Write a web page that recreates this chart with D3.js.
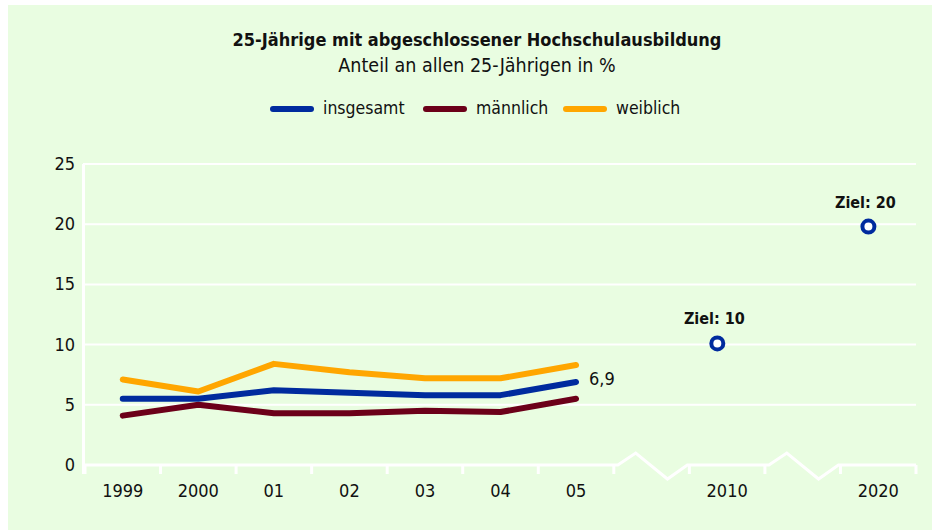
<!DOCTYPE html>
<html>
<head>
<meta charset="utf-8">
<script src="https://cdn.jsdelivr.net/npm/d3@7"></script>
<style>
  html, body { margin: 0; padding: 0; background: #fff; }
  svg { display: block; font-family: "DejaVu Sans Condensed", "DejaVu Sans", sans-serif; }
</style>
</head>
<body>
<div id="chart"></div>
<script>
// x slots: data years, an axis break, 2010, another break, 2020
const slots = ["1999", "2000", "01", "02", "03", "04", "05", "brk1", "2010", "brk2", "2020"];
const breakSlots = ["brk1", "brk2"];
const years = ["1999", "2000", "01", "02", "03", "04", "05"];
const insgesamt = [5.5, 5.5, 6.2, 6.0, 5.8, 5.8, 6.9];
const maennlich = [4.1, 5.0, 4.3, 4.3, 4.5, 4.4, 5.5];
const weiblich = [7.1, 6.1, 8.4, 7.7, 7.2, 7.2, 8.3];
const zielYears = ["2010", "2020"];
const zielValues = [10.1, 19.8];
const zielLabels = ["Ziel: 10", "Ziel: 20"];
const yTicks = [0, 5, 10, 15, 20, 25];

const width = 932, height = 530;
const colors = { insgesamt: "#002b9e", maennlich: "#6c0019", weiblich: "#ffa600" };
const series = [
    { name: "insgesamt", values: insgesamt, color: colors.insgesamt },
    { name: "männlich", values: maennlich, color: colors.maennlich },
    { name: "weiblich", values: weiblich, color: colors.weiblich }
];

const svg = d3.select("#chart").append("svg")
    .attr("width", width)
    .attr("height", height);

// green panel
svg.append("rect")
    .attr("x", 8).attr("y", 5)
    .attr("width", width - 8).attr("height", height - 5)
    .attr("fill", "#e9fde1");

const x = d3.scaleBand().domain(slots).range([85, 916]);
const y = d3.scaleLinear().domain([0, 25]).range([465, 164]);
const bw = x.bandwidth();
const cx = d => x(d) + bw / 2;

// titles
svg.append("text")
    .attr("x", 477).attr("y", 46)
    .attr("text-anchor", "middle")
    .style("font-size", "18px").style("font-weight", "bold")
    .attr("fill", "#111")
    .text("25-Jährige mit abgeschlossener Hochschulausbildung");
svg.append("text")
    .attr("x", 477).attr("y", 72)
    .attr("text-anchor", "middle")
    .style("font-size", "19.5px")
    .attr("fill", "#111")
    .text("Anteil an allen 25-Jährigen in %");

// legend
const legendX = [270, 423, 563];
const lg = svg.selectAll("g.legend").data(series).enter().append("g")
    .attr("class", "legend")
    .attr("transform", (d, i) => `translate(${legendX[i]},109)`);
lg.append("line")
    .attr("x1", 3).attr("x2", 41)
    .attr("stroke", d => d.color)
    .attr("stroke-width", 6)
    .attr("stroke-linecap", "round");
lg.append("text")
    .attr("x", 53).attr("y", 5)
    .style("font-size", "17.5px")
    .attr("fill", "#111")
    .text(d => d.name);

// gridlines
svg.selectAll("line.grid")
    .data(yTicks.filter(t => t > 0))
    .enter().append("line")
    .attr("class", "grid")
    .attr("x1", 83).attr("x2", 916)
    .attr("y1", d => y(d)).attr("y2", d => y(d))
    .attr("stroke", "#fff").attr("stroke-width", 2);

// y tick labels
svg.selectAll("text.ytick")
    .data(yTicks)
    .enter().append("text")
    .attr("class", "ytick")
    .attr("x", 75).attr("y", d => y(d) + 6)
    .attr("text-anchor", "end")
    .style("font-size", "18px")
    .attr("fill", "#111")
    .text(d => d);

// x axis with zigzag breaks
const y0 = y(0);
const axisPts = [[83, y0]];
slots.forEach(s => {
    const x0 = x(s);
    if (breakSlots.includes(s)) {
        axisPts.push([x0 + 4, y0]);
        axisPts.push([x0 + bw * 0.29, y0 - 12]);
        axisPts.push([x0 + bw * 0.71, y0 + 14]);
        axisPts.push([x0 + bw - 2, y0]);
    }
});
axisPts.push([916, y0]);
svg.append("path")
    .attr("d", d3.line()(axisPts))
    .attr("fill", "none")
    .attr("stroke", "#fff").attr("stroke-width", 3)
    .attr("stroke-linejoin", "miter");

// x ticks at band edges
svg.selectAll("line.xtick")
    .data(slots.map(s => x(s)).concat([x.range()[1]]))
    .enter().append("line")
    .attr("class", "xtick")
    .attr("x1", d => d).attr("x2", d => d)
    .attr("y1", y0).attr("y2", y0 + 9)
    .attr("stroke", "#fff").attr("stroke-width", 3);

// y axis line
svg.append("line")
    .attr("x1", 83.5).attr("x2", 83.5)
    .attr("y1", y(25)).attr("y2", y0 + 9)
    .attr("stroke", "#fff").attr("stroke-width", 3);

// x tick labels
svg.selectAll("text.xlabel")
    .data(slots.filter(s => !breakSlots.includes(s)))
    .enter().append("text")
    .attr("class", "xlabel")
    .attr("x", d => cx(d)).attr("y", 497)
    .attr("text-anchor", "middle")
    .style("font-size", "18px")
    .attr("fill", "#111")
    .text(d => d);

// series lines
const line = d3.line()
    .x((d, i) => cx(years[i]))
    .y(d => y(d));
svg.selectAll("path.series")
    .data(series.slice().reverse())
    .enter().append("path")
    .attr("class", "series")
    .attr("d", d => line(d.values))
    .attr("fill", "none")
    .attr("stroke", d => d.color)
    .attr("stroke-width", 6)
    .attr("stroke-linecap", "round")
    .attr("stroke-linejoin", "round");

// end label for insgesamt
svg.append("text")
    .attr("x", cx("05") + 13)
    .attr("y", y(insgesamt[insgesamt.length - 1]) + 3)
    .style("font-size", "18px")
    .attr("fill", "#111")
    .text("6,9");

// targets
const zx = d => x(d) + bw * 0.37;
svg.selectAll("circle.ziel")
    .data(zielYears)
    .enter().append("circle")
    .attr("class", "ziel")
    .attr("cx", d => zx(d))
    .attr("cy", (d, i) => y(zielValues[i]))
    .attr("r", 6)
    .attr("fill", "#fff")
    .attr("stroke", colors.insgesamt)
    .attr("stroke-width", 4);
svg.selectAll("text.ziel")
    .data(zielYears)
    .enter().append("text")
    .attr("class", "ziel")
    .attr("x", d => zx(d) - 3)
    .attr("y", (d, i) => y(zielValues[i]) - 19)
    .attr("text-anchor", "middle")
    .style("font-size", "16px").style("font-weight", "bold")
    .attr("fill", "#111")
    .text((d, i) => zielLabels[i]);
</script>
</body>
</html>
